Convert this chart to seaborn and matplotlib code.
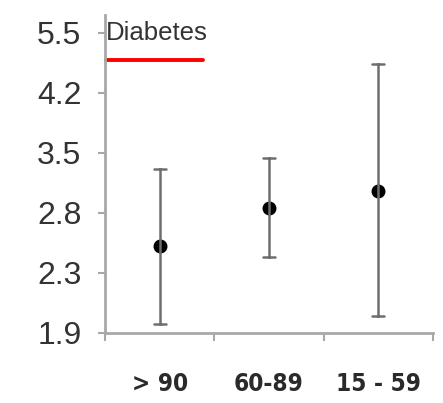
import numpy as np
import pandas as pd
import seaborn as sns
import matplotlib.pyplot as plt

# categories and interval values (low, estimate, high)
groups = ["> 90", "60-89", "15 - 59"]
low = [1.96, 2.43, 2.01]
est = [2.52, 2.86, 3.06]
high = [3.31, 3.44, 4.83]
yticks = [1.9, 2.3, 2.8, 3.5, 4.2, 5.5]

# long table: median of (low, est, high) = est, 100% interval = low..high
rows = []
for g, lo, e, hi in zip(groups, low, est, high):
    for v in (lo, e, hi):
        rows.append({"group": g, "value": v})
df = pd.DataFrame(rows)

sns.set_theme(style="white")
plt.rcParams["font.family"] = ["Liberation Sans", "DejaVu Sans"]

# axis with equally spaced, unevenly valued ticks
knots_v = yticks + [yticks[-1] + (yticks[-1] - yticks[-2]) * 10]
knots_p = list(range(len(yticks))) + [len(yticks) - 1 + 10]

def fwd(v):
    return np.interp(v, knots_v, knots_p)

def inv(p):
    return np.interp(p, knots_p, knots_v)

fig = plt.figure(figsize=(4.43, 4.03), dpi=100)
ax = fig.add_axes([0.237, 0.174, 0.74, 0.789])
ax.set_yscale("function", functions=(fwd, inv))

sns.pointplot(data=df, x="group", y="value", estimator="median",
              errorbar=("pi", 100), linestyle="none", color="black",
              markers="o", markersize=8, capsize=0.11,
              err_kws={"color": "#6e6e6e", "linewidth": 1.8}, ax=ax)

ax.set_xlim(-0.5, 2.5)
ax.set_ylim(1.9, inv(5.3))
ax.set_yticks(yticks)
ax.set_yticklabels([str(t) for t in yticks])
ax.yaxis.set_minor_locator(plt.NullLocator())
ax.set_xlabel("")
ax.set_ylabel("")

for s in ["top", "right"]:
    ax.spines[s].set_visible(False)
for s in ["left", "bottom"]:
    ax.spines[s].set_color("#a8a8a8")
    ax.spines[s].set_linewidth(2)

ax.tick_params(axis="y", left=True, length=5, width=1.5, color="#a8a8a8",
               labelsize=23, labelcolor="#333333", pad=12)
ax.tick_params(axis="x", which="major", length=0, pad=28)
ax.set_xticks([-0.5, 0.5, 1.5, 2.5], minor=True)
ax.tick_params(axis="x", which="minor", bottom=True, length=6, width=1.5,
               color="#a8a8a8")
for lab in ax.get_xticklabels():
    lab.set_family(["DejaVu Sans"])
    lab.set_fontstretch("condensed")
    lab.set_fontweight("bold")
    lab.set_fontsize(17.5)
    lab.set_color("#2a2a2a")

ax.text(-0.49, 5.5, "Diabetes", fontsize=18.5, color="#333333", va="center")
ax.plot([0.004, 0.3], [0.858, 0.858], transform=ax.transAxes,
        color="red", linewidth=2.8, clip_on=False)

fig.savefig("out.png", dpi=100)
